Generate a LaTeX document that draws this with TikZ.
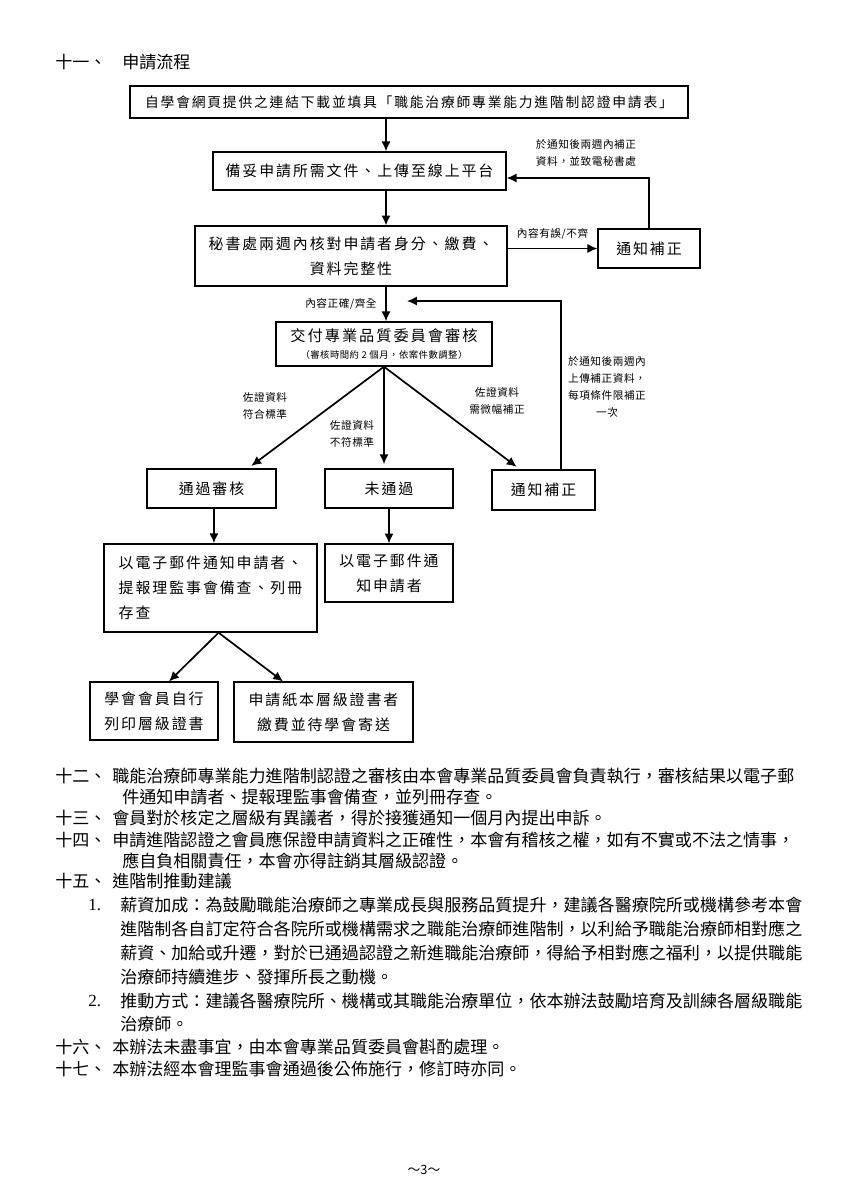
\documentclass[tikz,border=0pt]{standalone}
\usepackage{fontspec}
\setmainfont{Liberation Serif}
\newfontfamily\cjk{Noto Sans CJK TC}
\newfontfamily\cjkbox[LetterSpace=13]{Noto Sans CJK TC}
\newfontfamily\cjknote[LetterSpace=5]{Noto Sans CJK TC}
\usetikzlibrary{arrows.meta,positioning}

\tikzset{
  stepbox/.style={draw, line width=0.9pt, inner sep=0pt, align=center,
    font=\cjkbox\fontsize{10.5pt}{17.5pt}\selectfont},
  flow/.style={-{Latex[length=7pt,width=6.5pt]}, line width=1.2pt},
  note/.style={inner sep=0pt, align=center,
    font=\cjknote\fontsize{7.5pt}{12pt}\selectfont},
  bodyline/.style={anchor=west, inner sep=0pt,
    font=\cjk\fontsize{12pt}{14pt}\selectfont},
}

\begin{document}
\begin{tikzpicture}[x=0.02474cm, y=-0.02474cm]
  \fill[white] (0,0) rectangle (849,1200);
  \useasboundingbox (0,0) rectangle (849,1200);

  % heading
  \node[bodyline] (h11)  at (55,62)  {十一、};
  \node[bodyline] (h11t) at (122,62) {申請流程};

  % main column
  \coordinate (spine) at (386,0);
  \node[stepbox, minimum width=13.80cm, minimum height=0.79cm,
        font=\cjkbox\fontsize{9.7pt}{12pt}\selectfont] (apply) at (409,102)
    {自學會網頁提供之連結下載並填具「職能治療師專業能力進階制認證申請表」};
  \node[stepbox, minimum width=7.25cm, minimum height=0.94cm] (upload) at (359.5,171)
    {備妥申請所需文件、上傳至線上平台};
  \node[stepbox, minimum width=7.72cm, minimum height=1.48cm] (check) at (351,256)
    {秘書處兩週內核對申請者身分、繳費、\\資料完整性};
  \node[stepbox, minimum width=2.52cm, minimum height=0.96cm] (fixA) at (649,248.5)
    {通知補正};
  \node[stepbox, minimum width=5.34cm, minimum height=1.09cm,
        font=\cjkbox\fontsize{10.7pt}{13pt}\selectfont] (review) at (384,344)
    {交付專業品質委員會審核\\[-1pt]{\cjknote\fontsize{6.6pt}{8pt}\selectfont（審核時間約 2 個月，依案件數調整）}};

  % results
  \node[stepbox, minimum width=3.19cm, minimum height=0.96cm] (pass) at (211.5,488.5) {通過審核};
  \node[stepbox, minimum width=3.17cm, minimum height=0.96cm] (fail) at (389,488.5) {未通過};
  \node[stepbox, minimum width=2.55cm, minimum height=0.99cm] (fixB) at (543.5,490) {通知補正};
  \node[stepbox, align=left, minimum width=5.27cm, minimum height=2.18cm] (mailA) at (210.5,588)
    {以電子郵件通知申請者、\\提報理監事會備查、列冊\\存查};
  \node[stepbox, minimum width=3.17cm, minimum height=1.43cm] (mailB) at (389,573)
    {以電子郵件通\\知申請者};
  \node[stepbox, minimum width=3.17cm, minimum height=1.43cm] (selfp) at (154,711)
    {學會會員自行\\列印層級證書};
  \node[stepbox, minimum width=4.43cm, minimum height=1.48cm] (paper) at (323.5,712)
    {申請紙本層級證書者\\繳費並待學會寄送};

  % connectors
  \coordinate (ret1) at (0,178);
  \coordinate (back) at (407,301);
  \draw[flow] (apply.south -| spine) -- (upload.north -| spine);
  \draw[flow] (upload.south -| spine) -- (check.north -| spine);
  \draw[flow] (check.south -| spine) -- (review.north -| spine)
    node[note, midway, left=6pt] (okl) {內容正確/齊全};
  \draw[flow] (fixA.west -| check.east) -- (fixA.west)
    node[note, midway, above=6pt] (errl) {內容有誤/不齊};
  \draw[flow] (fixA.north) |- (upload.east |- ret1);
  \node[note] (fixnoteA) at (586,153) {於通知後兩週內補正\\資料，並致電秘書處};

  \draw[flow, shorten >=3pt] (review.south) -- ([xshift=0.90cm]pass.north);
  \draw[flow, shorten >=3pt] (review.south) -- (review.south |- fail.north);
  \draw[flow, shorten >=3pt] (review.south) -- ([xshift=-0.58cm]fixB.north);
  \draw[flow] ([xshift=0.43cm]fixB.north) |- (back);
  \node[note] (okdoc)   at (265,406) {佐證資料\\符合標準};
  \node[note] (baddoc)  at (352,434) {佐證資料\\不符標準};
  \node[note] (minidoc) at (497,401) {佐證資料\\需微幅補正};
  \node[note] (fixnoteB) at (607,387) {於通知後兩週內\\上傳補正資料，\\每項條件限補正\\一次};

  \draw[flow] ([xshift=0.06cm]pass.south) -- ([xshift=0.06cm]pass.south |- mailA.north);
  \draw[flow] (fail.south) -- (fail.south |- mailB.north);
  \draw[flow] ([xshift=0.2cm]mailA.south) -- ([xshift=0.37cm]selfp.north);
  \draw[flow] ([xshift=0.2cm]mailA.south) -- ([xshift=-1.0cm]paper.north);

  % articles below the chart
  \node[bodyline] (n12)  at (55,776)  {十二、};
  \node[bodyline] (s12)  at (112,776) {職能治療師專業能力進階制認證之審核由本會專業品質委員會負責執行，審核結果以電子郵};
  \node[bodyline] (s12b) at (122,797) {件通知申請者、提報理監事會備查，並列冊存查。};
  \node[bodyline] (n13)  at (55,818)  {十三、};
  \node[bodyline] (s13)  at (112,818) {會員對於核定之層級有異議者，得於接獲通知一個月內提出申訴。};
  \node[bodyline] (n14)  at (55,840)  {十四、};
  \node[bodyline] (s14)  at (112,840) {申請進階認證之會員應保證申請資料之正確性，本會有稽核之權，如有不實或不法之情事，};
  \node[bodyline] (s14b) at (122,861) {應自負相關責任，本會亦得註銷其層級認證。};
  \node[bodyline] (n15)  at (55,881)  {十五、};
  \node[bodyline] (s15)  at (112,881) {進階制推動建議};
  \node[bodyline, font=\rmfamily\fontsize{12pt}{14pt}\selectfont] (n151) at (88,905) {1.};
  \node[bodyline] (p1)   at (120,905) {薪資加成：為鼓勵職能治療師之專業成長與服務品質提升，建議各醫療院所或機構參考本會};
  \node[bodyline] (p1b)  at (120,929) {進階制各自訂定符合各院所或機構需求之職能治療師進階制，以利給予職能治療師相對應之};
  \node[bodyline] (p1c)  at (120,953) {薪資、加給或升遷，對於已通過認證之新進職能治療師，得給予相對應之福利，以提供職能};
  \node[bodyline] (p1d)  at (120,977) {治療師持續進步、發揮所長之動機。};
  \node[bodyline, font=\rmfamily\fontsize{12pt}{14pt}\selectfont] (n152) at (88,1001) {2.};
  \node[bodyline] (p2)   at (120,1001) {推動方式：建議各醫療院所、機構或其職能治療單位，依本辦法鼓勵培育及訓練各層級職能};
  \node[bodyline] (p2b)  at (120,1024) {治療師。};
  \node[bodyline] (n16)  at (55,1047) {十六、};
  \node[bodyline] (s16)  at (112,1047) {本辦法未盡事宜，由本會專業品質委員會斟酌處理。};
  \node[bodyline] (n17)  at (55,1069) {十七、};
  \node[bodyline] (s17)  at (112,1069) {本辦法經本會理監事會通過後公佈施行，修訂時亦同。};

  % page number
  \node[inner sep=0pt, font=\cjk\fontsize{9pt}{10pt}\selectfont] (pageno) at (424,1170) {～3～};
\end{tikzpicture}
\end{document}
